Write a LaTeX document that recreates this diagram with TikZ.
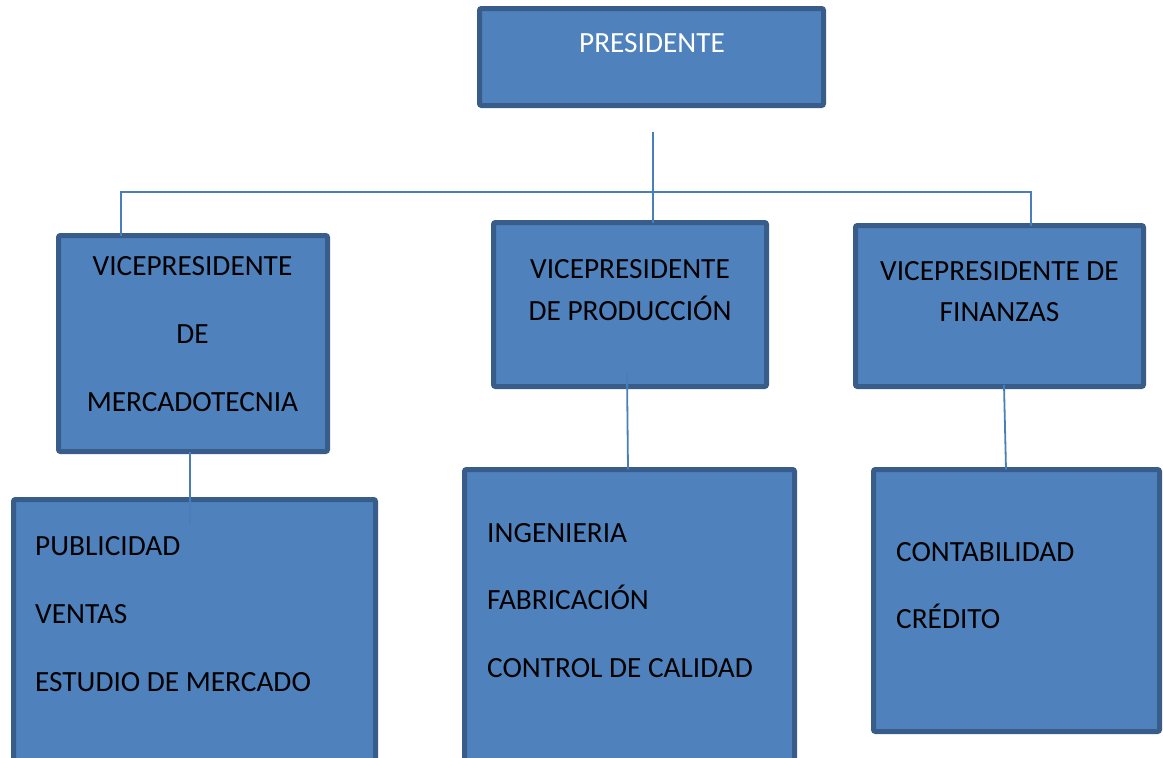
\documentclass[tikz,border=0pt]{standalone}
\usepackage{fontspec}
\setmainfont{Carlito}
\definecolor{boxfill}{HTML}{4F81BD}
\definecolor{boxline}{HTML}{385D8A}
\definecolor{connline}{HTML}{4A7EBB}
\begin{document}
\begin{tikzpicture}[x=1pt,y=-1pt,
  box/.style={draw=boxline,fill=boxfill,line width=5pt,rounded corners=2pt,inner sep=0pt,outer sep=0pt},
  conn/.style={draw=connline,line width=1.8pt},
  lbl/.style={anchor=base,inner sep=0pt,font=\fontsize{29.3}{35}\selectfont},
  lbll/.style={anchor=base west,inner sep=0pt,font=\fontsize{29.3}{35}\selectfont}]
\useasboundingbox (0,0) rectangle (1163,758);
\clip (0,0) rectangle (1163,758);
% boxes
\node[box,minimum width=344pt,minimum height=97pt] (pres) at (651.5,57) {};
\node[box,minimum width=269pt,minimum height=216pt] (vp1) at (193,343.5) {};
\node[box,minimum width=273pt,minimum height=164pt] (vp2) at (630,304.5) {};
\node[box,minimum width=288pt,minimum height=161pt] (vp3) at (999.5,306) {};
\node[box,minimum width=362pt,minimum height=278pt] (d1) at (194.5,638.5) {};
\node[box,minimum width=330pt,minimum height=308pt] (d2) at (629.5,623.5) {};
\node[box,minimum width=286pt,minimum height=262pt] (d3) at (1016.5,600.5) {};
% texts
\node[lbl,text=white] (tpres) at (652,52) {PRESIDENTE};
\node[lbl] (tv1a) at (192.5,275) {VICEPRESIDENTE};
\node[lbl] (tv1b) at (192.5,343) {DE};
\node[lbl] (tv1c) at (192.5,411) {MERCADOTECNIA};
\node[lbl] (tv2a) at (630,278) {VICEPRESIDENTE};
\node[lbl] (tv2b) at (630,320) {DE PRODUCCIÓN};
\node[lbl] (tv3a) at (999.5,280) {VICEPRESIDENTE DE};
\node[lbl] (tv3b) at (999.5,321) {FINANZAS};
\node[lbll] (td1a) at (35,555) {PUBLICIDAD};
\node[lbll] (td1b) at (35,623) {VENTAS};
\node[lbll] (td1c) at (35,691) {ESTUDIO DE MERCADO};
\node[lbll] (td2a) at (487,542) {INGENIERIA};
\node[lbll] (td2b) at (487,609) {FABRICACIÓN};
\node[lbll] (td2c) at (487,677) {CONTROL DE CALIDAD};
\node[lbll] (td3a) at (896,561) {CONTABILIDAD};
\node[lbll] (td3b) at (896,628) {CRÉDITO};
% connectors
\coordinate (t1) at (653,132);
\coordinate (hl) at (121,192);
\coordinate (hr) at (1031,192);
\coordinate (l1) at (190,524);
\coordinate (m1) at (627,373);
\coordinate (m2) at (628,0);
\coordinate (r1) at (1004,385);
\coordinate (r2) at (1006,0);
\draw[conn] (t1) -- (t1 |- vp2.north);
\draw[conn] (hl |- vp1.north) -- (hl) -- (hr) -- (hr |- vp3.north);
\draw[conn] (l1 |- vp1.south) -- (l1);
\draw[conn] (m1) -- (m2 |- d2.north);
\draw[conn] (r1) -- (r2 |- d3.north);
\end{tikzpicture}
\end{document}
